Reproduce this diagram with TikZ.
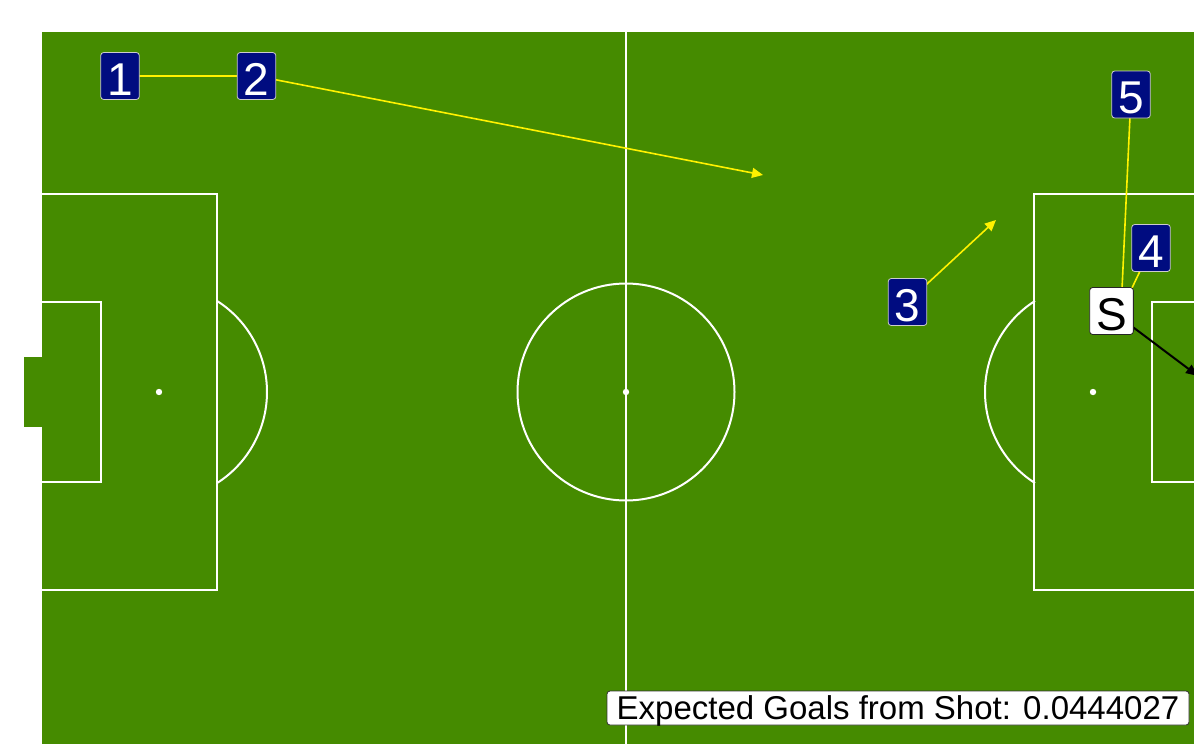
\documentclass[tikz,border=0pt]{standalone}
\usepackage{fontspec}
\setmainfont{Liberation Sans}
\usetikzlibrary{arrows.meta}
\definecolor{pitchgreen}{RGB}{69,139,0}
\definecolor{navybox}{RGB}{0,12,128}
\pgfdeclarelayer{pitchlayer}
\pgfdeclarelayer{linklayer}
\pgfsetlayers{pitchlayer,linklayer,main}
\begin{document}
\begin{tikzpicture}[x=1pt,y=-1pt,
  pline/.style={draw=white,line width=2pt},
  spot/.style={fill=white},
  numbox/.style={fill=navybox,draw=gray!40,line width=0.8pt,rounded corners=3pt,text=white,
    font=\fontsize{46}{46}\selectfont,text height=42pt,text depth=4pt,inner ysep=0.5pt,inner xsep=6.5pt},
  shotbox/.style={numbox,fill=white,draw=black!85,text=black},
  passline/.style={draw=yellow,line width=1.6pt},
  passarrow/.style={passline,-{Triangle[length=11pt,width=10pt]}},
  shotarrow/.style={draw=black,line width=2pt,-{Triangle[length=12pt,width=10pt]}},
  xgbox/.style={fill=white,draw=black!80,line width=0.8pt,rounded corners=3pt,
    font=\fontsize{33}{33}\selectfont,text height=23.5pt,text depth=0pt,inner ysep=5.25pt,
    inner xsep=0pt,minimum width=582pt}]
\useasboundingbox (0,0) rectangle (1194,744);
\begin{pgfonlayer}{pitchlayer}
\begin{scope}
\clip (0,0) rectangle (1194,744);
\fill[white] (0,0) rectangle (1194,744);
\fill[pitchgreen] (42,32) rectangle (1210,752);
\fill[pitchgreen] (24,357) rectangle (42,427);
% halfway line and centre
\draw[pline] (626,32) -- (626,752);
\draw[pline] (626,392) circle[radius=108.5];
\fill[spot] (626,392) circle[radius=3.2];
% left end
\draw[pline] (42,194) -- (217,194) -- (217,590) -- (42,590);
\draw[pline] (42,302) -- (100.5,302) -- (100.5,482) -- (42,482);
\fill[spot] (159,392) circle[radius=3.2];
\draw[pline] (159,392) ++(-57.5:108) arc[start angle=-57.5,end angle=57.5,radius=108];
% right end
\draw[pline] (1210,194) -- (1034,194) -- (1034,590) -- (1210,590);
\draw[pline] (1210,302) -- (1151.5,302) -- (1151.5,482) -- (1210,482);
\fill[spot] (1093,392) circle[radius=3.2];
\draw[pline] (1093,392) ++(122.5:108) arc[start angle=122.5,end angle=237.5,radius=108];
\end{scope}
\end{pgfonlayer}
% labels
\node[numbox] (n1) at (120,76) {1};
\node[numbox] (n2) at (256.5,76) {2};
\node[numbox] (n3) at (907.5,302) {3};
\node[numbox] (n4) at (1151,248) {4};
\node[numbox] (n5) at (1131,94.5) {5};
\node[shotbox] (s) at (1111.5,311) {S};
\node[xgbox] (xg) at (898,708) {Expected Goals from Shot: 0.0444027};
\coordinate (e2) at (763,175);
\coordinate (e3) at (996,220);
\coordinate (sp) at (1121,311);
\coordinate (e6) at (1198,376);
\begin{pgfonlayer}{linklayer}
\begin{scope}
\clip (0,0) rectangle (1194,744);
\draw[passline] (n1.center) -- (n2.center);
\draw[passarrow] (n2.center) -- (e2);
\draw[passarrow] (n3.center) -- (e3);
\draw[passline] (n5.center) -- (sp);
\draw[passline] (n4.center) -- (sp);
\draw[shotarrow] (s.center) -- (e6);
\end{scope}
\end{pgfonlayer}
\end{tikzpicture}
\end{document}
